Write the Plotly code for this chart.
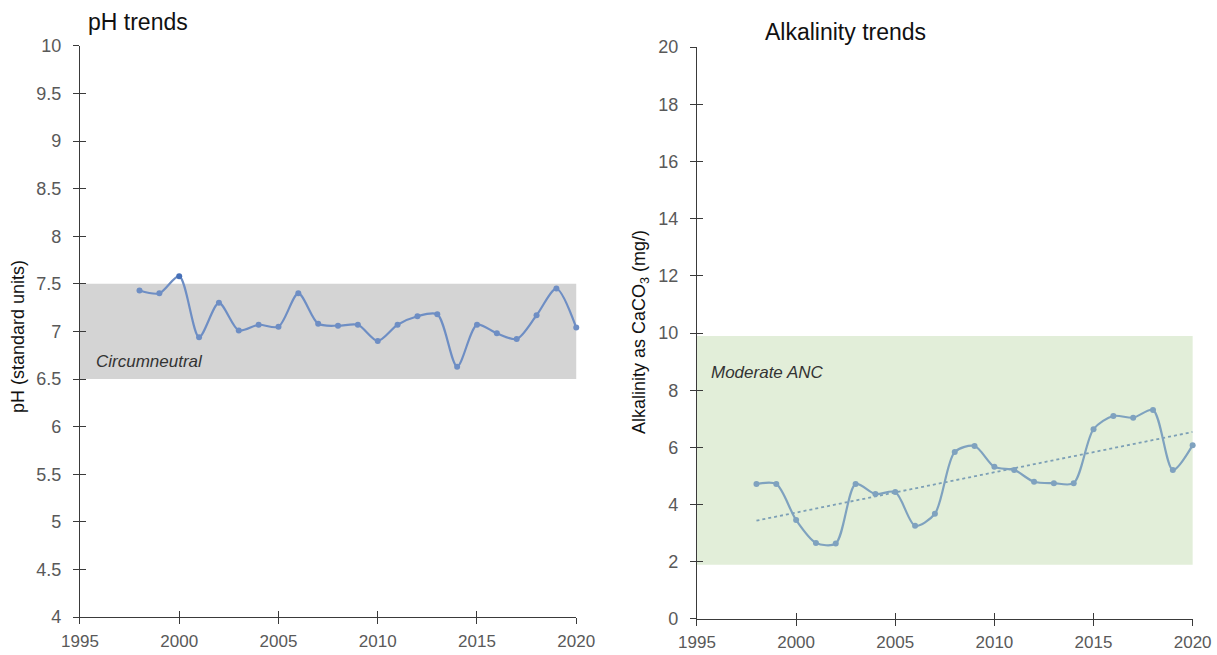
import numpy as np
import plotly.graph_objects as go

# Sampling years shared by both series
years = list(range(1998, 2021))

# Annual pH (standard units)
ph_values = [7.43, 7.40, 7.58, 6.94, 7.30, 7.01, 7.07, 7.05, 7.40, 7.08, 7.06, 7.07,
             6.90, 7.07, 7.16, 7.18, 6.63, 7.07, 6.98, 6.92, 7.17, 7.45, 7.04]

# Annual alkalinity as CaCO3 (mg/l)
alk_values = [4.72, 4.72, 3.46, 2.66, 2.64, 4.72, 4.37, 4.44, 3.26, 3.68, 5.84, 6.05,
              5.32, 5.21, 4.80, 4.75, 4.75, 6.64, 7.10, 7.04, 7.31, 5.21, 6.08]

# Reference bands
ph_band = [6.5, 7.5]
alk_band = [1.9, 9.9]

ph_ticks = [4, 4.5, 5, 5.5, 6, 6.5, 7, 7.5, 8, 8.5, 9, 9.5, 10]
ph_ticktext = ["4", "4.5", "5", "5.5", "6", "6.5", "7", "7.5", "8", "8.5", "9", "9.5", "10"]
alk_ticks = [0, 2, 4, 6, 8, 10, 12, 14, 16, 18, 20]
year_ticks = [1995, 2000, 2005, 2010, 2015, 2020]

FONT = "Liberation Sans"
GRAY = "#595959"
AXIS = "#3a3a3a"

# Linear trend for alkalinity
slope, intercept = np.polyfit(years, alk_values, 1)
alk_trend = [slope * y + intercept for y in years]

fig = go.Figure()

fig.add_trace(go.Scatter(
    x=years, y=ph_values, mode="lines+markers",
    line=dict(color="#6e8ec4", width=2.2, shape="spline", smoothing=0.8),
    marker=dict(size=6, color=["#6e8ec4", "#6e8ec4", "#4670b8"] + ["#6e8ec4"] * (len(years) - 3)),
    xaxis="x", yaxis="y", showlegend=False, hoverinfo="x+y", cliponaxis=False))

fig.add_trace(go.Scatter(
    x=years, y=alk_trend, mode="lines",
    line=dict(color="#7c9fb6", width=1.8, dash="dot"),
    xaxis="x2", yaxis="y2", showlegend=False, hoverinfo="skip"))

fig.add_trace(go.Scatter(
    x=years, y=alk_values, mode="lines+markers",
    line=dict(color="#7fa2bf", width=2.2, shape="spline", smoothing=0.8),
    marker=dict(size=6, color="#7fa2bf"),
    xaxis="x2", yaxis="y2", showlegend=False, hoverinfo="x+y", cliponaxis=False))

# Shaded classification bands
fig.add_shape(type="rect", xref="x", yref="y", x0=1995, x1=2020.15, y0=ph_band[0], y1=ph_band[1],
              fillcolor="#d4d4d4", line=dict(width=0), layer="below")
fig.add_shape(type="rect", xref="x2", yref="y2", x0=1995, x1=2020.25, y0=alk_band[0], y1=alk_band[1],
              fillcolor="#e2eed9", line=dict(width=0), layer="below")

axis_common = dict(showgrid=False, zeroline=False, showline=True, linecolor=AXIS, linewidth=1.3,
                   ticks="outside", ticklen=6, tickcolor=AXIS, tickwidth=1.2, automargin=False)
yfont = dict(family=FONT, size=18, color=GRAY)
xfont = dict(family=FONT, size=17, color=GRAY)
overlay_common = dict(showgrid=False, zeroline=False, showline=False, showticklabels=False,
                      automargin=False, ticks="inside", ticklen=6, tickcolor=AXIS, tickwidth=1.2)

left_x = [0.0657, 0.4735]
right_x = [0.5727, 0.9800]
left_y = [0.058, 0.930]
right_y = [0.055, 0.928]

fig.update_layout(
    width=1217, height=655,
    margin=dict(l=0, r=0, t=0, b=0),
    paper_bgcolor="white", plot_bgcolor="rgba(0,0,0,0)",
    xaxis=dict(domain=left_x, range=[1995, 2020], tickvals=year_ticks, anchor="y",
               ticklabelstandoff=2, tickfont=xfont, **axis_common),
    yaxis=dict(domain=left_y, range=[4, 10], tickvals=ph_ticks, ticktext=ph_ticktext, anchor="x",
               ticklabelstandoff=8, tickfont=yfont, **axis_common),
    xaxis2=dict(domain=right_x, range=[1995, 2020], tickvals=year_ticks, anchor="y2",
                ticklabelstandoff=1, tickfont=xfont, **axis_common),
    yaxis2=dict(domain=right_y, range=[0, 20], tickvals=alk_ticks, anchor="x2",
                ticklabelstandoff=8, tickfont=yfont, **axis_common),
    # inward tick halves so ticks cross the axis lines
    xaxis3=dict(overlaying="x", anchor="y", range=[1995, 2020], tickvals=year_ticks, **overlay_common),
    yaxis3=dict(overlaying="y", anchor="x", range=[4, 10], tickvals=ph_ticks, **overlay_common),
    xaxis4=dict(overlaying="x2", anchor="y2", range=[1995, 2020], tickvals=year_ticks, **overlay_common),
    yaxis4=dict(overlaying="y2", anchor="x2", range=[0, 20], tickvals=alk_ticks, **overlay_common),
)

# placeholder traces so the overlay axes are drawn
fig.add_trace(go.Scatter(x=[1995], y=[4], xaxis="x3", yaxis="y3", mode="markers",
                         marker=dict(opacity=0), showlegend=False, hoverinfo="skip"))
fig.add_trace(go.Scatter(x=[1995], y=[0], xaxis="x4", yaxis="y4", mode="markers",
                         marker=dict(opacity=0), showlegend=False, hoverinfo="skip"))

annotations = [
    dict(text="pH trends", x=86, y=22, xanchor="left", yanchor="middle",
         font=dict(family=FONT, size=23, color="#111111")),
    dict(text="Alkalinity trends", x=763, y=32, xanchor="left", yanchor="middle",
         font=dict(family=FONT, size=23, color="#111111")),
    dict(text="pH (standard units)", x=18, y=337, textangle=-90, xanchor="center", yanchor="middle",
         font=dict(family=FONT, size=18, color="#111111")),
    dict(text="Alkalinity as CaCO<sub>3</sub> (mg/)", x=640, y=332, textangle=-90,
         xanchor="center", yanchor="middle",
         font=dict(family=FONT, size=18, color="#111111")),
    dict(text="<i>Circumneutral</i>", x=94, y=361, xanchor="left", yanchor="middle",
         font=dict(family=FONT, size=17, color="#333333")),
    dict(text="<i>Moderate ANC</i>", x=709, y=372, xanchor="left", yanchor="middle",
         font=dict(family=FONT, size=17, color="#333333")),
]
for a in annotations:
    a["x"] = a["x"] / 1217
    a["y"] = 1 - a["y"] / 655
    fig.add_annotation(xref="paper", yref="paper", showarrow=False, **a)

fig.write_html("out.html")
